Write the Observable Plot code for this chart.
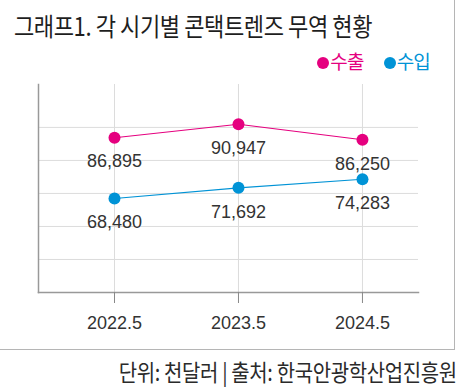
<!DOCTYPE html>
<html>
<head>
<meta charset="utf-8">
<script src="https://cdn.jsdelivr.net/npm/d3@7"></script>
<script src="https://cdn.jsdelivr.net/npm/@observablehq/plot@0.6"></script>
<style>
  html, body { margin: 0; padding: 0; background: #fff; }
  #wrap { position: relative; width: 460px; height: 387px; overflow: hidden; font-family: "Noto Sans CJK KR", "Noto Sans", sans-serif; }
  #frame { position: absolute; left: -2px; top: -2px; width: 457px; height: 352px; border-right: 1.5px solid #b5b5b5; border-bottom: 1.5px solid #b5b5b5; box-sizing: border-box; }
  #title { position: absolute; left: 14px; top: 12px; font-size: 25px; line-height: 26px; font-weight: 400; color: #1e1e1e; white-space: nowrap; transform-origin: 0 0; letter-spacing: -0.5px; }
  #legend { position: absolute; right: 30px; top: 50px; font-size: 19px; line-height: 22px; white-space: nowrap; letter-spacing: -0.8px; }
  #legend span { margin-left: 20px; }
  #legend i { display: inline-block; width: 12px; height: 12px; border-radius: 50%; vertical-align: 0px; margin-right: 1px; }
  #chart { position: absolute; left: 0; top: 70px; }
  #caption { position: absolute; right: 3px; top: 359px; font-size: 23px; line-height: 24px; color: #2a2a2a; white-space: nowrap; letter-spacing: -0.4px; transform-origin: 100% 0; }
</style>
</head>
<body>
<div id="wrap">
  <div id="frame"></div>
  <div id="title">그래프1. 각 시기별 콘택트렌즈 무역 현황</div>
  <div id="legend"></div>
  <div id="chart"></div>
  <div id="caption">단위: 천달러 | 출처: 한국안광학산업진흥원</div>
</div>
<script>
const periods = [2022.5, 2023.5, 2024.5];
const tickLabels = ["2022.5", "2023.5", "2024.5"];
const exportValues = [86895, 90947, 86250];
const importValues = [68480, 71692, 74283];
const seriesNames = ["수출", "수입"];
const seriesColors = ["#e5007f", "#0093d6"];
const yGrid = [50000, 60000, 70000, 80000, 90000];

const rows = [];
periods.forEach((p, i) => {
  rows.push({period: p, value: exportValues[i], series: seriesNames[0]});
  rows.push({period: p, value: importValues[i], series: seriesNames[1]});
});

const legend = document.getElementById("legend");
seriesNames.forEach((n, i) => {
  const s = document.createElement("span");
  s.style.color = seriesColors[i];
  s.innerHTML = `<i style="background:${seriesColors[i]}"></i>${n}`;
  legend.appendChild(s);
});

function fitWidth(id, w) {
  const el = document.getElementById(id);
  const cur = el.getBoundingClientRect().width;
  el.style.transform = `scaleX(${w / cur})`;
}
fitWidth("title", 358);
fitWidth("caption", 338);

const fmt = d3.format(",");
const chart = Plot.plot({
  width: 460,
  height: 270,
  marginLeft: 38,
  marginRight: 42,
  marginTop: 14,
  marginBottom: 48,
  style: {fontFamily: "'Liberation Sans', Arial, sans-serif", fontSize: "18px", color: "#333", background: "transparent"},
  x: {domain: [2021.887, 2024.952], label: null},
  y: {domain: [40000, 103000], axis: null},
  color: {domain: seriesNames, range: seriesColors},
  marks: [
    Plot.gridY(yGrid, {stroke: "#dcdcdc", strokeOpacity: 1, strokeWidth: 1}),
    Plot.gridX(periods, {stroke: "#dcdcdc", strokeOpacity: 1, strokeWidth: 1}),
    Plot.frame({anchor: "left", stroke: "#999", strokeWidth: 1.5}),
    Plot.frame({anchor: "bottom", stroke: "#999", strokeWidth: 1.5}),
    Plot.axisX({ticks: periods, tickFormat: d => tickLabels[periods.indexOf(d)], tickSize: 11, tickPadding: 13, stroke: "#888", fill: "#333", fontSize: 18, label: null}),
    Plot.line(rows, {x: "period", y: "value", z: "series", stroke: "series", strokeWidth: 1.1}),
    Plot.dot(rows, {x: "period", y: "value", fill: "series", r: 6}),
    Plot.text(rows, {x: "period", y: "value", text: d => fmt(d.value), dy: 24, fill: "#333", fontSize: 18})
  ]
});
document.getElementById("chart").appendChild(chart);
</script>
</body>
</html>
